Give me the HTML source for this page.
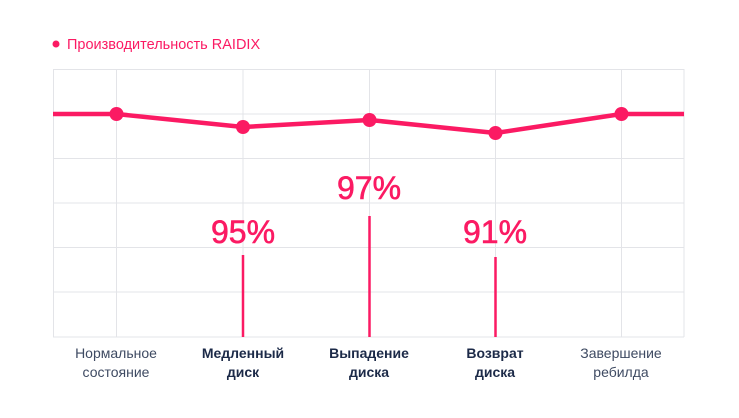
<!DOCTYPE html>
<html><head><meta charset="utf-8"><style>
body{margin:0;background:#fff;}
svg{display:block;font-family:"Liberation Sans","DejaVu Sans",sans-serif;}
</style></head><body>
<svg width="739" height="418" viewBox="0 0 739 418">
<circle cx="56" cy="44" r="3.5" fill="#fb1a63"/>
<text x="67" y="49" font-size="14.5" fill="#fb1a63">Производительность RAIDIX</text>
<g stroke="#e3e4e8" stroke-width="1" fill="none">
<line x1="53" y1="69.5" x2="684" y2="69.5"/>
<line x1="53" y1="114" x2="684" y2="114"/>
<line x1="53" y1="158.5" x2="684" y2="158.5"/>
<line x1="53" y1="203" x2="684" y2="203"/>
<line x1="53" y1="247.5" x2="684" y2="247.5"/>
<line x1="53" y1="292" x2="684" y2="292"/>
<line x1="53" y1="337" x2="684" y2="337"/>
<line x1="53.5" y1="69" x2="53.5" y2="337"/>
<line x1="116.5" y1="69" x2="116.5" y2="337"/>
<line x1="243" y1="69" x2="243" y2="337"/>
<line x1="369.5" y1="69" x2="369.5" y2="337"/>
<line x1="495.5" y1="69" x2="495.5" y2="337"/>
<line x1="621.5" y1="69" x2="621.5" y2="337"/>
<line x1="684" y1="69" x2="684" y2="337"/>
</g>
<g stroke="#fb1a63" stroke-width="2.5">
<line x1="243" y1="255" x2="243" y2="337"/>
<line x1="369.5" y1="216" x2="369.5" y2="337"/>
<line x1="495.5" y1="257" x2="495.5" y2="337"/>
</g>
<polyline points="53,114 116.5,114 243,127 369.5,120 495.5,133 621.5,114 684,114" fill="none" stroke="#fb1a63" stroke-width="4.5" stroke-linejoin="round"/>
<g fill="#fb1a63">
<circle cx="116.5" cy="114" r="7"/><circle cx="243" cy="127" r="7"/><circle cx="369.5" cy="120" r="7"/><circle cx="495.5" cy="133" r="7"/><circle cx="621.5" cy="114" r="7"/>
</g>
<g fill="#fb1a63" font-size="32" text-anchor="middle" stroke="#fb1a63" stroke-width="0.6">
<text x="243" y="243">95%</text>
<text x="369" y="199">97%</text>
<text x="495" y="243">91%</text>
</g>
<g font-size="14" text-anchor="middle" fill="#3e4a62">
<text x="116" y="358">Нормальное</text><text x="116" y="377">состояние</text>
<text x="621" y="358">Завершение</text><text x="621" y="377">ребилда</text>
</g>
<g font-size="14" font-weight="bold" text-anchor="middle" fill="#1c2a48">
<text x="243" y="358">Медленный</text><text x="243" y="377">диск</text>
<text x="369" y="358">Выпадение</text><text x="369" y="377">диска</text>
<text x="495" y="358">Возврат</text><text x="495" y="377">диска</text>
</g>
</svg>
</body></html>
